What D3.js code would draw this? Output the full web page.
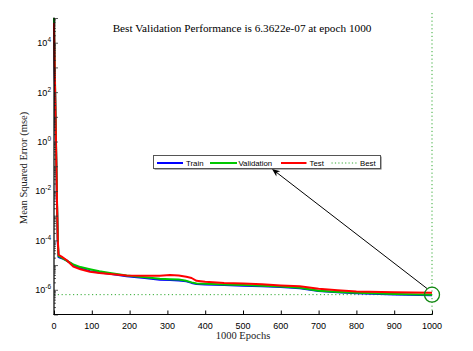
<!DOCTYPE html>
<html><head><meta charset="utf-8">
<script src="https://cdn.jsdelivr.net/npm/d3@7"></script>
<style>body{margin:0;background:#fff}svg{display:block}</style>
</head><body><svg id="c" width="473" height="351"></svg>
<script>
const epochs = [0, 2, 4, 6, 8, 10, 12, 20, 33, 51, 70, 95, 120, 148, 192, 240, 280, 307, 330, 350, 364, 377, 400, 450, 500, 550, 600, 650, 700, 750, 800, 900, 1000];
const trainPerf = [5e4, 6e2, 1e1, 1.6e-1, 2.5e-3, 8e-5, 2.1e-5, 1.9e-5, 1.55e-5, 1.0e-5, 7.5e-6, 5.7e-6, 5.0e-6, 4.5e-6, 3.5e-6, 3.0e-6, 2.55e-6, 2.5e-6, 2.4e-6, 2.2e-6, 1.9e-6, 1.7e-6, 1.65e-6, 1.55e-6, 1.45e-6, 1.38e-6, 1.3e-6, 1.15e-6, 8.9e-7, 8.0e-7, 7.3e-7, 6.5e-7, 6.0e-7];
const valPerf = [1e5, 1.2e3, 1.6e1, 2.5e-1, 4e-3, 1.2e-4, 2.3e-5, 2.0e-5, 1.5e-5, 1.07e-5, 8.3e-6, 6.8e-6, 5.6e-6, 4.8e-6, 3.8e-6, 3.2e-6, 2.8e-6, 2.7e-6, 2.6e-6, 2.3e-6, 2.0e-6, 1.8e-6, 1.75e-6, 1.65e-6, 1.55e-6, 1.45e-6, 1.35e-6, 1.2e-6, 9.1e-7, 8.2e-7, 7.6e-7, 6.8e-7, 6.3622e-7];
const testPerf = [6.3e4, 8e2, 1.3e1, 2e-1, 3.2e-3, 1e-4, 2.6e-5, 2.2e-5, 1.6e-5, 8.7e-6, 6.8e-6, 5.4e-6, 4.8e-6, 4.4e-6, 3.8e-6, 3.7e-6, 3.7e-6, 4.0e-6, 3.8e-6, 3.4e-6, 3.0e-6, 2.3e-6, 2.1e-6, 1.9e-6, 1.8e-6, 1.66e-6, 1.5e-6, 1.38e-6, 1.1e-6, 9.5e-7, 8.5e-7, 7.9e-7, 7.6e-7];
const bestEpoch = 1000;
const bestPerf = 6.3622e-7;
const xTicks = [0, 100, 200, 300, 400, 500, 600, 700, 800, 900, 1000];
const yDecades = [1e-7, 1e-6, 1e-5, 1e-4, 1e-3, 1e-2, 1e-1, 1e0, 1e1, 1e2, 1e3, 1e4];
const yLabelExps = [-6, -4, -2, 0, 2, 4];
const seriesNames = ["Train", "Validation", "Test", "Best"];
const titleText = "Best Validation Performance is 6.3622e-07 at epoch 1000";

const svg = d3.select("#c");
const x = d3.scaleLinear().domain([0, 1000]).range([54, 432]);
const y = d3.scaleLog().domain([1e-7, 1e5]).range([314.5, 18]);

// best lines
svg.append("line").attr("x1", x(0)).attr("x2", x(1000)).attr("y1", y(bestPerf)).attr("y2", y(bestPerf))
  .attr("stroke", "#33aa33").attr("stroke-width", 1).attr("stroke-dasharray", "1.2,2.6");
svg.append("line").attr("x1", x(bestEpoch)).attr("x2", x(bestEpoch)).attr("y1", 13).attr("y2", y(1e-7))
  .attr("stroke", "#33aa33").attr("stroke-width", 1).attr("stroke-dasharray", "1.2,2.6");

// series
const line = d3.line().x((d, i) => x(epochs[i])).y(d => y(d));
[[trainPerf, "#0000ff"], [valPerf, "#00c800"], [testPerf, "#ff0000"]].forEach(([vals, c]) => {
  svg.append("path").datum(vals).attr("d", line).attr("fill", "none").attr("stroke", c)
    .attr("stroke-width", 2).attr("stroke-linejoin", "round");
});

// axes
const minor = [];
yDecades.forEach(d => { for (let k = 2; k <= 9; k++) { const v = d * k; if (v <= 1e5) minor.push(v); } });
const yAxisMinor = d3.axisLeft(y).tickValues(minor).tickSize(-2).tickFormat("");
const yAxisMajor = d3.axisLeft(y).tickValues(yDecades.concat([1e5])).tickSize(-4).tickFormat("");
const gy1 = svg.append("g").attr("transform", "translate(54,0)").call(yAxisMinor);
const gy2 = svg.append("g").attr("transform", "translate(54,0)").call(yAxisMajor);
[gy1, gy2].forEach(g => { g.selectAll("line").attr("stroke", "#333").attr("stroke-width", 0.8); g.select(".domain").remove(); });
svg.append("line").attr("x1", 54).attr("x2", 54).attr("y1", 17.5).attr("y2", 315).attr("stroke", "#000").attr("stroke-width", 1.2);

const xAxis = d3.axisBottom(x).tickValues(xTicks).tickSize(-4).tickFormat("");
const gx = svg.append("g").attr("transform", "translate(0,314.5)").call(xAxis);
gx.select(".domain").remove();
gx.selectAll("line").attr("stroke", "#000");
svg.append("line").attr("x1", 53.5).attr("x2", 432.5).attr("y1", 314.5).attr("y2", 314.5).attr("stroke", "#000").attr("stroke-width", 1.2);

// x tick labels
svg.append("g").selectAll("text").data(xTicks).join("text")
  .attr("x", d => x(d)).attr("y", 329).attr("text-anchor", "middle")
  .attr("font-family", "Liberation Sans, Arial, sans-serif").attr("font-size", 9).attr("fill", "#000")
  .text(d => d);

// y tick labels
const yl = svg.append("g").selectAll("text").data(yLabelExps).join("text")
  .attr("x", 51).attr("y", d => y(Math.pow(10, d)) + 3.5).attr("text-anchor", "end")
  .attr("font-family", "Liberation Sans, Arial, sans-serif").attr("font-size", 9).attr("fill", "#000");
yl.append("tspan").text("10");
yl.append("tspan").attr("dy", -4).attr("font-size", 6.5).text(d => d);

// title & labels
const title = svg.append("text").attr("x", 242).attr("y", 31.5).attr("text-anchor", "middle")
  .attr("font-family", "Liberation Serif, Times New Roman, serif").attr("font-size", 11).attr("fill", "#000").text(titleText);
const tw = title.node().getComputedTextLength();
title.attr("font-size", 11 * 259 / tw);
svg.append("text").attr("x", 243).attr("y", 338.5).attr("text-anchor", "middle")
  .attr("font-family", "Liberation Serif, Times New Roman, serif").attr("font-size", 10.5).attr("fill", "#222").text("1000 Epochs");
svg.append("text").attr("transform", "translate(27,168) rotate(-90)").attr("text-anchor", "middle")
  .attr("font-family", "Liberation Serif, Times New Roman, serif").attr("font-size", 10.5).attr("fill", "#222").text("Mean Squared Error (mse)");

// circle at best
svg.append("circle").attr("cx", x(bestEpoch)).attr("cy", y(bestPerf)).attr("r", 7.5)
  .attr("fill", "none").attr("stroke", "#118811").attr("stroke-width", 1.3);

// legend
const lg = svg.append("g");
lg.append("rect").attr("x", 154.5).attr("y", 156.5).attr("width", 227).attr("height", 13).attr("fill", "#666");
lg.append("rect").attr("x", 153.5).attr("y", 155.5).attr("width", 227).attr("height", 13).attr("fill", "#fff").attr("stroke", "#555").attr("stroke-width", 1);
const legendItems = [
  {name: seriesNames[0], c: "#0000ff", x1: 157, x2: 183, tx: 186, dash: null, w: 2},
  {name: seriesNames[1], c: "#00c800", x1: 210, x2: 237, tx: 238.5, dash: null, w: 2},
  {name: seriesNames[2], c: "#ff0000", x1: 281, x2: 306.5, tx: 309.5, dash: null, w: 2},
  {name: seriesNames[3], c: "#33aa33", x1: 331.5, x2: 357.5, tx: 360, dash: "1.2,2.2", w: 1}
];
legendItems.forEach(it => {
  lg.append("line").attr("x1", it.x1).attr("x2", it.x2).attr("y1", 163).attr("y2", 163)
    .attr("stroke", it.c).attr("stroke-width", it.w).attr("stroke-dasharray", it.dash);
  lg.append("text").attr("x", it.tx).attr("y", 166).attr("font-family", "Liberation Sans, Arial, sans-serif")
    .attr("font-size", 7.8).attr("fill", "#000").text(it.name);
});

// arrow
const ax1 = 427, ay1 = 288.5, ax2 = 272, ay2 = 169;
svg.append("line").attr("x1", ax1).attr("y1", ay1).attr("x2", ax2 + 4).attr("y2", ay2 + 3)
  .attr("stroke", "#000").attr("stroke-width", 1);
const ang = Math.atan2(ay2 - ay1, ax2 - ax1);
const L = 8, W = 3.2;
const bx = ax2 - L * Math.cos(ang), by = ay2 - L * Math.sin(ang);
const px = -Math.sin(ang), py = Math.cos(ang);
svg.append("path").attr("d", `M${ax2},${ay2}L${bx + W * px},${by + W * py}L${bx + 0.3*L*Math.cos(ang)},${by + 0.3*L*Math.sin(ang)}L${bx - W * px},${by - W * py}Z`)
  .attr("fill", "#000");
</script></body></html>
